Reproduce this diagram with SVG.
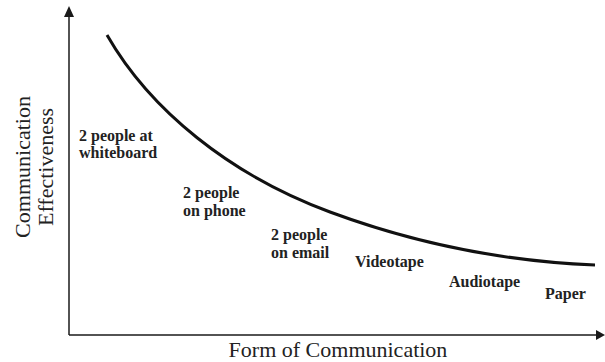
<svg xmlns="http://www.w3.org/2000/svg" width="605" height="362" viewBox="0 0 605 362">
<style>
.axis{stroke:#1a1a1a;stroke-width:1.5;fill:none}
.curve{stroke:#111;stroke-width:3;fill:none}
.lbl{font-family:"Liberation Serif","Times New Roman",serif;font-size:16px;font-weight:bold;fill:#222}
.ax{font-family:"Liberation Serif","Times New Roman",serif;font-size:22px;fill:#222}
</style>
<g id="axes">
<line class="axis" x1="69" y1="335" x2="69" y2="15"/>
<line class="axis" x1="69" y1="335" x2="598" y2="335"/>
<polygon points="69,6 64,17 74,17" fill="#1a1a1a"/>
<polygon points="605,335 596,330 596,340" fill="#1a1a1a"/>
</g>
<g id="connectors">
<path class="curve" d="M107,35 C150,110 230,175 330,212 S520,262 595,265"/>
</g>
<g id="axis-labels">
<text class="ax" x="338" y="357" text-anchor="middle">Form of Communication</text>
<text class="ax" transform="translate(30,167) rotate(-90)" text-anchor="middle">Communication</text>
<text class="ax" transform="translate(53,167) rotate(-90)" text-anchor="middle">Effectiveness</text>
</g>
<g id="n-whiteboard"><text class="lbl" x="79" y="141">2 people at</text><text class="lbl" x="79" y="158">whiteboard</text></g>
<g id="n-phone"><text class="lbl" x="183" y="198">2 people</text><text class="lbl" x="183" y="216">on phone</text></g>
<g id="n-email"><text class="lbl" x="271" y="240">2 people</text><text class="lbl" x="271" y="258">on email</text></g>
<g id="n-videotape"><text class="lbl" x="355" y="267">Videotape</text></g>
<g id="n-audiotape"><text class="lbl" x="449" y="287">Audiotape</text></g>
<g id="n-paper"><text class="lbl" x="545" y="299">Paper</text></g>
</svg>
